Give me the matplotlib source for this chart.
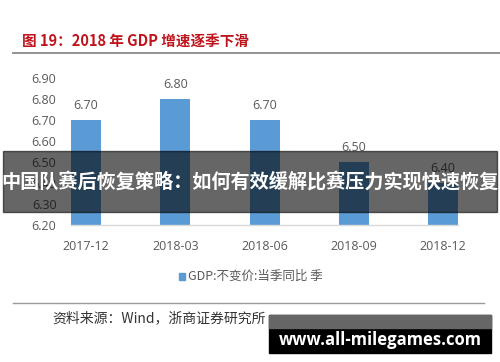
import matplotlib
matplotlib.use("Agg")
import matplotlib.pyplot as plt
from matplotlib.patches import Rectangle

categories = ["2017-12", "2018-03", "2018-06", "2018-09", "2018-12"]
values = [6.70, 6.80, 6.70, 6.50, 6.40]
yticks = [6.20, 6.30, 6.40, 6.50, 6.60, 6.70, 6.80, 6.90]
title = "图 19：2018 年 GDP 增速逐季下滑"
legend_label = "GDP:不变价:当季同比 季"
source = "资料来源：Wind，浙商证券研究所"
banner = "中国队赛后恢复策略：如何有效缓解比赛压力实现快速恢复"
site = "www.all-milegames.com"

W, H = 500, 362
fig = plt.figure(figsize=(W / 100, H / 100), dpi=100)
fig.patch.set_facecolor("white")

def fx(x):
    return x / W

def fy(y):
    return 1 - y / H

cjk = ["Noto Sans CJK SC", "DejaVu Sans"]
num_font = ["Open Sans", "DejaVu Sans"]
tick_color = "#595959"

# axes
ax = fig.add_axes([fx(62), fy(225), fx(488) - fx(62), fy(78) - fy(225)])
x = list(range(len(categories)))
bars = ax.bar(x, values, width=0.336, color="#5B9BD5", bottom=0, zorder=2)
ax.set_xlim(-0.269, 4.504)
ax.set_ylim(6.20, 6.90)
ax.set_yticks(yticks)
ax.set_yticklabels([f"{v:.2f}" for v in yticks], family=num_font, fontsize=9, color=tick_color)
ax.set_xticks(x)
ax.set_xticklabels(categories, family=num_font, fontsize=9, color=tick_color)
ax.tick_params(axis="both", length=0)
ax.tick_params(axis="y", pad=4)
ax.tick_params(axis="x", pad=11)
for s in ["top", "right", "left"]:
    ax.spines[s].set_visible(False)
ax.spines["bottom"].set_color("#d9d9d9")
ax.spines["bottom"].set_linewidth(1.0)
ax.spines["bottom"].set_bounds(-0.168, 4.168)
for xi, v in zip(x, values):
    ax.annotate(f"{v:.2f}", (xi, v), xytext=(0, 6), textcoords="offset points",
                ha="center", va="bottom", family=num_font, fontsize=9,
                color=tick_color, clip_on=False)

# legend
fig.patches.append(Rectangle((fx(179), fy(280)), fx(6), fy(273) - fy(280),
                             transform=fig.transFigure, color="#5B9BD5"))
fig.text(fx(188), fy(276), legend_label, family=cjk, fontsize=9,
         color=tick_color, ha="left", va="center")

# title and rules
fig.text(fx(22), fy(42), title, family=cjk, fontsize=10.5, fontweight="bold",
         color="#C0141C", ha="left", va="center")
fig.add_artist(plt.Line2D([fx(13), fx(500)], [fy(52.5), fy(52.5)],
                          transform=fig.transFigure, color="#8a8a8a", lw=1.3))
fig.add_artist(plt.Line2D([fx(13), fx(484)], [fy(302.5), fy(302.5)],
                          transform=fig.transFigure, color="#9a9a9a", lw=1.0))
fig.text(fx(52), fy(318), source, family=cjk, fontsize=10,
         color="#333333", ha="left", va="center")

# banner overlay
fig.patches.append(Rectangle((fx(3), fy(212)), fx(497) - fx(3), fy(151) - fy(212),
                             transform=fig.transFigure, color="black", alpha=0.6,
                             zorder=10))
fig.text(fx(250), fy(182), banner, family=cjk, fontsize=13.8, fontweight="bold",
         color="white", ha="center", va="center", zorder=11)

# site box
fig.patches.append(Rectangle((fx(269), fy(353)), fx(491) - fx(269), fy(315) - fy(353),
                             transform=fig.transFigure, color="black", zorder=10))
fig.patches.append(Rectangle((fx(269), fy(328)), fx(491) - fx(269), fy(315) - fy(328),
                             transform=fig.transFigure, color="#666666", zorder=10))
fig.text(fx(380), fy(340), site, family=["Open Sans", "DejaVu Sans"], fontsize=12,
         fontweight="bold", color="white", ha="center", va="center", zorder=11)

fig.savefig("out.png", dpi=100)
